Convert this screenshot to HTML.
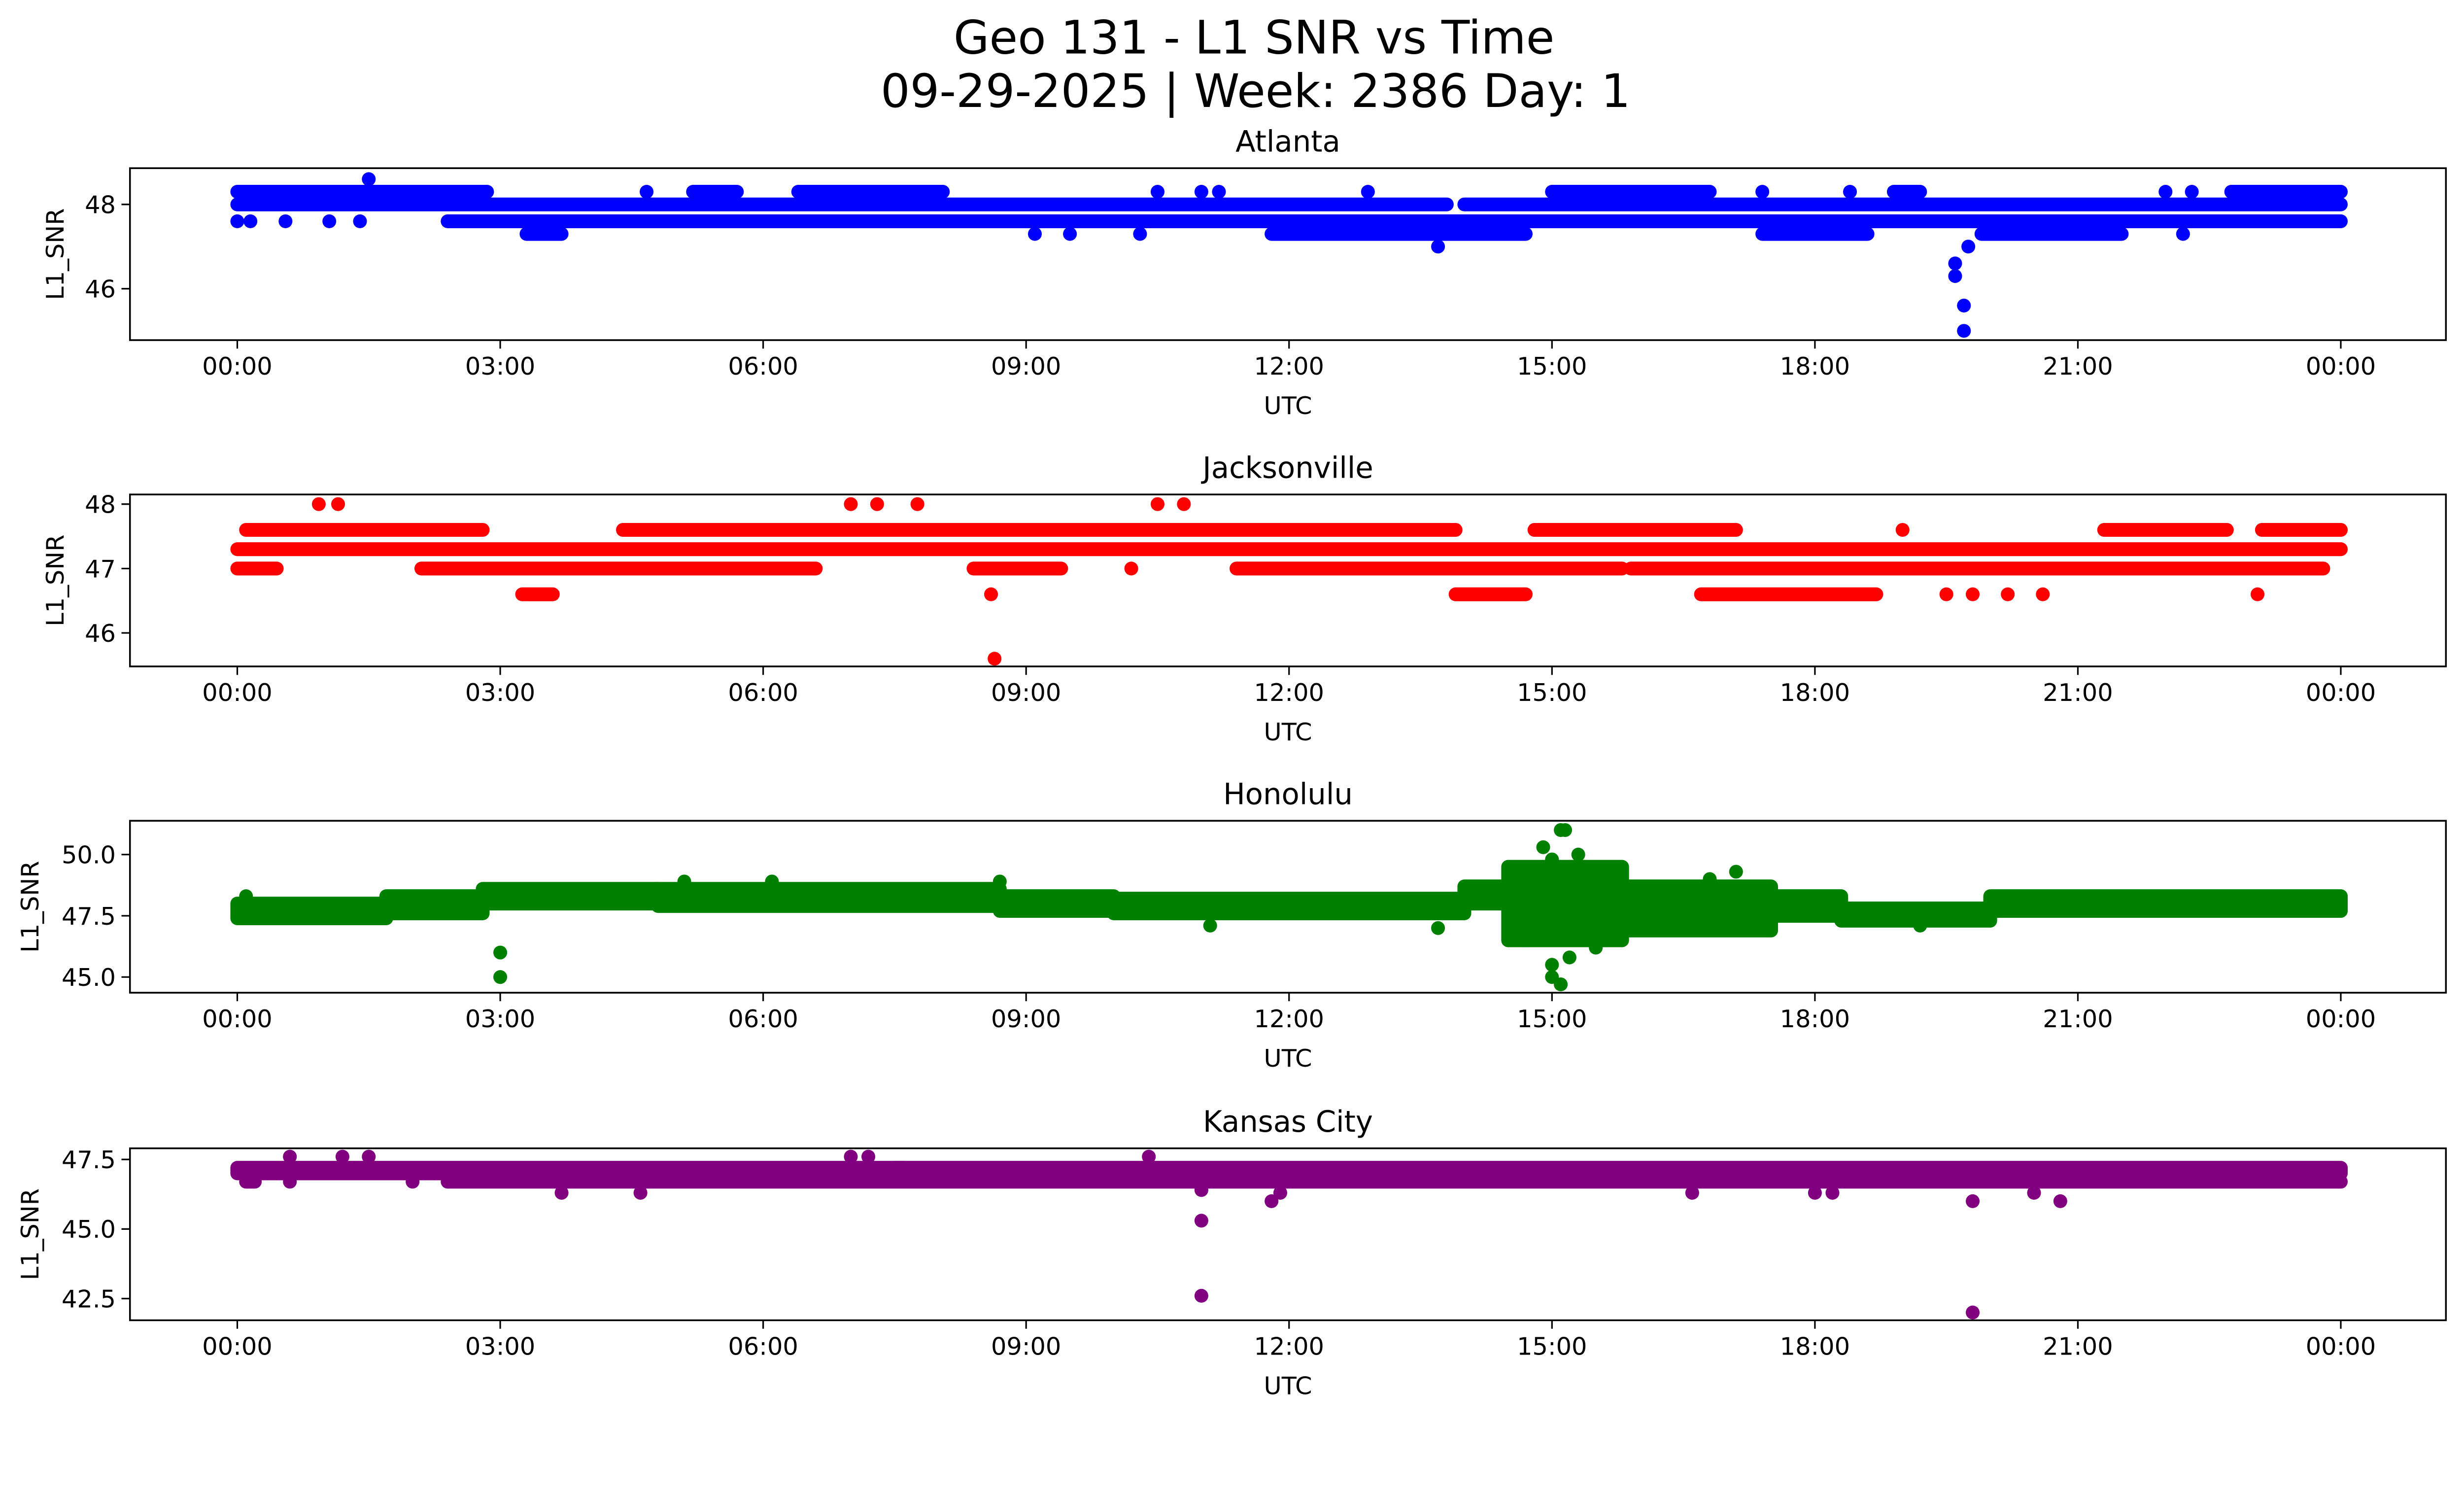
<!DOCTYPE html>
<html><head><meta charset="utf-8"><style>
html,body{margin:0;padding:0;background:#fff;overflow:hidden;}
svg{display:block;width:100vw;height:57.4649vw;}
text{font-family:"DejaVu Sans","Liberation Sans",sans-serif;fill:#000;}
</style></head><body>
<svg id="svgroot" viewBox="0 0 1568 901.07" preserveAspectRatio="none" xmlns="http://www.w3.org/2000/svg">
<rect x="0" y="0" width="1568" height="901.07" fill="#fff"/>
<g id="fig">
<text x="798" y="34" font-size="29.4" text-anchor="middle">Geo 131 - L1 SNR vs Time</text>
<text x="799" y="68" font-size="29.4" text-anchor="middle">09-29-2025 | Week: 2386 Day: 1</text>
</g>
</svg>
<script>
// x ticks (hours) and labels
const xTickHours = [0,3,6,9,12,15,18,21,24];
const xTickLabels = ["00:00","03:00","06:00","09:00","12:00","15:00","18:00","21:00","00:00"];
// panel titles and colours
const panelTitles = ["Atlanta","Jacksonville","Honolulu","Kansas City"];
const panelColors = ["#0000ff","#ff0000","#008000","#800080"];
// y tick values per panel
const atlYTicks = [46,48];
const jaxYTicks = [46,47,48];
const honYTicks = [45.0,47.5,50.0];
const kcYTicks = [42.5,45.0,47.5];
// y domains per panel
const atlYDomain = [44.78,48.86];
const jaxYDomain = [45.48,48.15];
const honYDomain = [44.36,51.38];
const kcYDomain = [41.72,47.90];
// Atlanta dense runs: start hour, end hour, low value, high value
const atlBandStart = [0,0,14.0,6.4,15.0,22.75,2.4,11.8,17.4,19.9,3.3,5.2,18.9];
const atlBandEnd   = [2.85,13.8,24,8.05,16.8,24,24,14.7,18.6,21.5,3.7,5.7,19.2];
const atlBandLo    = [48.3,48.0,48.0,48.3,48.3,48.3,47.6,47.3,47.3,47.3,47.3,48.3,48.3];
const atlBandHi    = [48.3,48.0,48.0,48.3,48.3,48.3,47.6,47.3,47.3,47.3,47.3,48.3,48.3];
// Atlanta isolated points
const atlPtHour = [1.5,0.0,0.15,0.55,1.05,1.4,4.67,10.5,11.0,11.2,12.9,17.4,18.4,22.0,22.3,9.1,9.5,10.3,13.7,19.6,19.6,19.7,19.7,19.75,22.2];
const atlPtVal  = [48.6,47.6,47.6,47.6,47.6,47.6,48.3,48.3,48.3,48.3,48.3,48.3,48.3,48.3,48.3,47.3,47.3,47.3,47.0,46.6,46.3,45.6,45.0,47.0,47.3];
// Jacksonville dense runs
const jaxBandStart = [0,0.1,5.3,12.2,14.8,21.3,23.1,0,2.1,8.4,11.4,15.9,4.4,16.7,3.25,13.9];
const jaxBandEnd   = [24,2.8,12.2,13.9,17.1,22.7,24,0.45,6.6,9.4,15.8,23.8,5.3,18.7,3.6,14.7];
const jaxBandLo    = [47.3,47.6,47.6,47.6,47.6,47.6,47.6,47.0,47.0,47.0,47.0,47.0,47.6,46.6,46.6,46.6];
const jaxBandHi    = [47.3,47.6,47.6,47.6,47.6,47.6,47.6,47.0,47.0,47.0,47.0,47.0,47.6,46.6,46.6,46.6];
// Jacksonville isolated points
const jaxPtHour = [0.93,1.15,7.0,7.3,7.76,10.5,10.8,8.64,8.6,19.0,10.2,19.5,19.8,20.2,20.6,23.05];
const jaxPtVal  = [48.0,48.0,48.0,48.0,48.0,48.0,48.0,45.6,46.6,47.6,47.0,46.6,46.6,46.6,46.6,46.6];
// Honolulu dense runs
const honBandStart = [0,1.7,2.8,4.8,8.7,10,14,14.5,15.8,17.5,18.3,20];
const honBandEnd   = [1.7,2.8,4.8,8.7,10,14,14.5,15.8,17.5,18.3,20,24];
const honBandLo    = [47.4,47.6,48.0,47.9,47.7,47.6,48.0,46.5,46.9,47.5,47.3,47.7];
const honBandHi    = [48.0,48.3,48.6,48.6,48.3,48.2,48.7,49.5,48.7,48.3,47.8,48.3];
// Honolulu isolated points
const honPtHour = [0.1,3.0,3.0,15.1,15.15,14.9,15.0,15.3,15.0,15.1,15.0,14.7,15.5,17.1,16.8,13.7,5.1,6.1,8.7,19.2,14.8,15.2,15.4,14.75,15.6,11.1];
const honPtVal  = [48.3,46.0,45.0,51.0,51.0,50.3,49.8,50.0,45.0,44.7,45.5,46.5,46.2,49.3,49.0,47.0,48.9,48.9,48.9,47.1,49.2,45.8,46.8,49.0,49.3,47.1];
// Kansas City dense runs
const kcBandStart = [0,2.4,0.1,7.5];
const kcBandEnd   = [24,24,0.2,7.6];
const kcBandLo    = [47.0,46.7,46.7,47.2];
const kcBandHi    = [47.2,46.7,46.7,47.2];
// Kansas City isolated points
const kcPtHour = [0.6,1.2,1.5,7.0,7.2,10.4,0.6,2.0,3.7,4.6,11.9,16.6,18.0,18.2,20.5,11.8,20.8,19.8,11.0,11.0,19.8,11.0];
const kcPtVal  = [47.6,47.6,47.6,47.6,47.6,47.6,46.7,46.7,46.3,46.3,46.3,46.3,46.3,46.3,46.3,46.0,46.0,46.0,45.3,42.6,42.0,46.4];

const panelTops = [107,314.6,522.2,730.6];
const panelH = 109.4;
const axL = 82.7, axR = 1556.5;
const R = 4.4;
const NS = "http://www.w3.org/2000/svg";
const svg = document.getElementById('fig');
function mk(tag, attrs, parent){const e=document.createElementNS(NS,tag);for(const k in attrs)e.setAttribute(k,attrs[k]);(parent||svg).appendChild(e);return e;}
function xScale(h){return 151 + h*(1489.6-151)/24;}

const panels = [
 {ticks:atlYTicks,dom:atlYDomain,bs:atlBandStart,be:atlBandEnd,bl:atlBandLo,bh:atlBandHi,ph:atlPtHour,pv:atlPtVal,fmt:0,labX:35},
 {ticks:jaxYTicks,dom:jaxYDomain,bs:jaxBandStart,be:jaxBandEnd,bl:jaxBandLo,bh:jaxBandHi,ph:jaxPtHour,pv:jaxPtVal,fmt:0,labX:35},
 {ticks:honYTicks,dom:honYDomain,bs:honBandStart,be:honBandEnd,bl:honBandLo,bh:honBandHi,ph:honPtHour,pv:honPtVal,fmt:1,labX:19},
 {ticks:kcYTicks,dom:kcYDomain,bs:kcBandStart,be:kcBandEnd,bl:kcBandLo,bh:kcBandHi,ph:kcPtHour,pv:kcPtVal,fmt:1,labX:19}
];

panels.forEach((p,i)=>{
  const top=panelTops[i], bot=top+panelH;
  const yScale=v=>bot-(v-p.dom[0])/(p.dom[1]-p.dom[0])*panelH;
  const g=mk('g',{});
  
  
  const title=mk('text',{x:(axL+axR)/2,y:top-10.5,'font-size':18.6,'text-anchor':'middle'},g);
  title.textContent=panelTitles[i];
  
  
  const clipId='clip'+i;
  const cp=mk('clipPath',{id:clipId},g);
  mk('rect',{x:axL,y:top,width:axR-axL,height:panelH},cp);
  const marks=mk('g',{'clip-path':'url(#'+clipId+')',fill:panelColors[i]},g);
  
  
  p.bs.forEach((s,k)=>{
    const x0=xScale(s)-R, x1=xScale(p.be[k])+R;
    const y0=yScale(p.bh[k])-R, y1=yScale(p.bl[k])+R;
    const r=mk('rect',{x:x0,y:y0,width:x1-x0,height:y1-y0,rx:R,ry:R},marks);
    
    
  });
  p.ph.forEach((h,k)=>{
    const c=mk('circle',{cx:xScale(h),cy:yScale(p.pv[k]),r:R},marks);
    
    
  });
  const frame=mk('rect',{x:axL,y:top,width:axR-axL,height:panelH,fill:'none',stroke:'#000','stroke-width':1.1},g);
  
  
  xTickHours.forEach((h,k)=>{
    const x=xScale(h);
    mk('line',{x1:x,x2:x,y1:bot,y2:bot+5.4,stroke:'#000','stroke-width':1},g);
    const t=mk('text',{x:x,y:bot+22,'font-size':15.5,'text-anchor':'middle'},g);
    t.textContent=xTickLabels[k];
    
    
  });
  p.ticks.forEach(v=>{
    const y=yScale(v);
    mk('line',{x1:axL-5.4,x2:axL,y1:y,y2:y,stroke:'#000','stroke-width':1},g);
    const t=mk('text',{x:axL-9,y:y+5.6,'font-size':15.5,'text-anchor':'end'},g);
    t.textContent=p.fmt?v.toFixed(1):String(v);
    
    
  });
  const xl=mk('text',{x:(axL+axR)/2,y:bot+47,'font-size':15.5,'text-anchor':'middle'},g);
  xl.textContent='UTC';
  
  
  const yc=(top+bot)/2;
  const yl=mk('text',{x:0,y:0,'font-size':15.5,'text-anchor':'middle',transform:'translate('+(p.labX+5.5)+','+yc+') rotate(-90)'},g);
  yl.textContent='L1_SNR';
  
  
});
</script>
</body></html>
